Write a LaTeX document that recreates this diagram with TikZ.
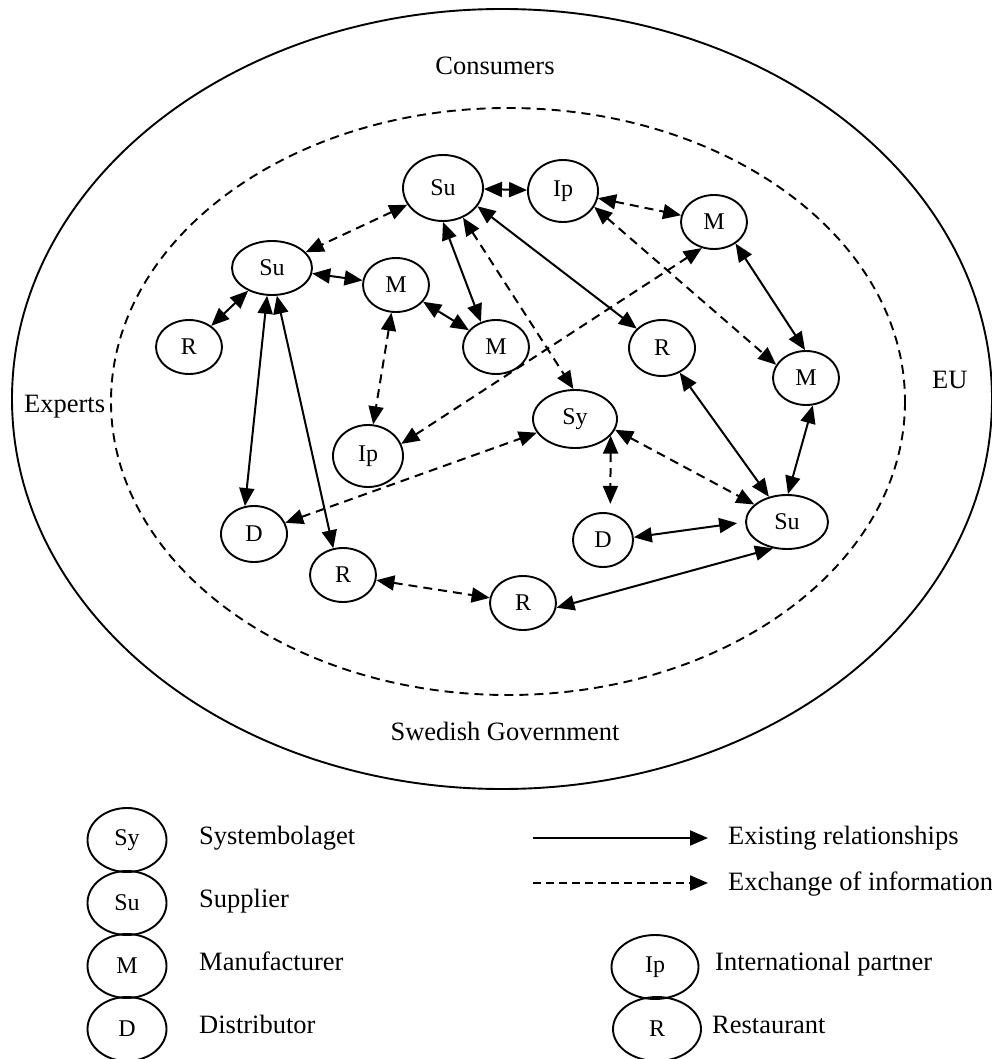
\documentclass[tikz,border=0pt]{standalone}
\usepackage{fontspec}
\setmainfont{Liberation Serif}
\usetikzlibrary{shapes.geometric,arrows.meta}
\newcommand\txtsize{\fontsize{26.5}{30}\selectfont}
\newcommand\entsize{\fontsize{24}{28}\selectfont}
\tikzset{
  ent/.style={ellipse, draw, line width=1.9pt, inner sep=0pt, font=\entsize},
  tipbig/.tip={Triangle[length=18pt,width=15pt]},
  rel/.style={line width=2pt, tipbig-tipbig},
  info/.style={rel, dash pattern=on 9pt off 6pt},
  ring/.style={line width=1.9pt},
  lbl/.style={font=\txtsize, inner sep=0pt, anchor=base},
  keytxt/.style={font=\txtsize, inner sep=0pt, anchor=base west},
}
\begin{document}
\begin{tikzpicture}[x=1pt,y=-1pt]
\useasboundingbox (0,0) rectangle (992,1059);

% surrounding rings
\draw[ring] (502,399) ellipse [x radius=490, y radius=390];
\draw[ring, dash pattern=on 9pt off 6pt] (508,401.5) ellipse [x radius=397, y radius=293.5];

\node[lbl] (consumers) at (495,75) {Consumers};
\node[lbl, anchor=base west] (experts) at (24,412) {Experts};
\node[lbl, anchor=base west] (eu) at (932,388) {EU};
\node[lbl] (gov) at (505,740) {Swedish Government};

% actors
\node[ent, minimum width=80pt, minimum height=66pt] (SuT) at (443,188) {Su};
\node[ent, minimum width=70pt, minimum height=62pt] (IpT) at (563,191) {Ip};
\node[ent, minimum width=66pt, minimum height=54pt] (MA) at (714,222) {M};
\node[ent, minimum width=80pt, minimum height=54pt] (SuL) at (272,268) {Su};
\node[ent, minimum width=66pt, minimum height=54pt] (MB) at (396,285) {M};
\node[ent, minimum width=66pt, minimum height=54pt] (MC) at (496,347) {M};
\node[ent, minimum width=66pt, minimum height=54pt] (RA) at (189,347) {R};
\node[ent, minimum width=66pt, minimum height=56pt] (RB) at (662,348) {R};
\node[ent, minimum width=66pt, minimum height=54pt] (MD) at (806,378) {M};
\node[ent, minimum width=84pt, minimum height=58pt] (Sy) at (575,419) {Sy};
\node[ent, minimum width=70pt, minimum height=62pt] (IpL) at (368,456) {Ip};
\node[ent, minimum width=66pt, minimum height=56pt] (DA) at (254,534) {D};
\node[ent, minimum width=66pt, minimum height=54pt] (RC) at (343,575) {R};
\node[ent, minimum width=60pt, minimum height=54pt] (DB) at (603,540) {D};
\node[ent, minimum width=82pt, minimum height=54pt] (SuR) at (787,522) {Su};
\node[ent, minimum width=66pt, minimum height=54pt] (RD) at (523,603) {R};

% existing relationships
\draw[rel] (SuT) -- (IpT);
\draw[rel] (SuT.-90) -- (MC.121);
\draw[rel] (SuT.-28) -- (RB);
\draw[rel] (SuL) -- (RA);
\draw[rel] (SuL) -- (MB);
\draw[rel] (MB) -- (MC);
\draw[rel] (SuL.-100) -- (DA.108);
\draw[rel] (SuL.-80) -- (RC.110);
\draw[rel] (MA.-45) -- (MD.92);
\draw[rel] (RB) -- (SuR);
\draw[rel] (MD.-76) -- (SuR.88);
\draw[rel, shorten >=8pt] (DB.5) -- (SuR.180);
\draw[rel] (RD.-8) -- (SuR.-118);

% exchange of information
\draw[info] (SuT) -- (SuL);
\draw[info] (IpT) -- (MA);
\draw[info] (IpT.-27) -- (MD.156);
\draw[info] (SuT.-56) -- (Sy.93);
\draw[info] (MB) -- (IpL);
\draw[info] (IpL.20) -- (MA.-115);
\draw[info] (DA) -- (Sy);
\draw[info] (Sy.-15) -- (SuR);
\draw[info, shorten >=9pt] (Sy.-25) -- (DB.75);
\draw[info] (RC) -- (RD);

% key
\node[ent, minimum width=79pt, minimum height=64pt] (kSy) at (127,840) {Sy};
\node[ent, minimum width=79pt, minimum height=64pt] (kSu) at (127,903) {Su};
\node[ent, minimum width=79pt, minimum height=64pt] (kM) at (127,966) {M};
\node[ent, minimum width=79pt, minimum height=64pt] (kD) at (127,1029) {D};
\node[keytxt] (tSy) at (199,844) {Systembolaget};
\node[keytxt] (tSu) at (199,907) {Supplier};
\node[keytxt] (tM) at (199,970) {Manufacturer};
\node[keytxt] (tD) at (199,1033) {Distributor};

\coordinate (rel1) at (533,838);
\coordinate (rel2) at (708,838);
\coordinate (inf1) at (533,883);
\coordinate (inf2) at (708,883);
\draw[line width=2pt, -tipbig] (rel1) -- (rel2);
\draw[line width=2pt, dash pattern=on 8pt off 5pt, -tipbig] (inf1) -- (inf2);
\node[keytxt] (tRel) at (728,844) {Existing relationships};
\node[keytxt] (tInf) at (728,890) {Exchange of information};

\node[ent, minimum width=87pt, minimum height=64pt] (kIp) at (655,967) {Ip};
\node[ent, minimum width=88pt, minimum height=64pt] (kR) at (657,1029) {R};
\node[keytxt] (tIp) at (715,970) {International partner};
\node[keytxt] (tR) at (712,1033) {Restaurant};
\end{tikzpicture}
\end{document}
